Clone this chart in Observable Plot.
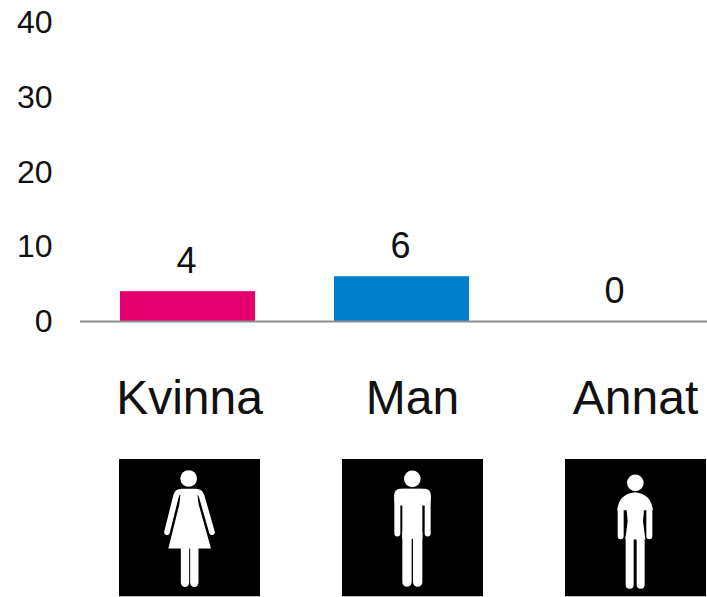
<!DOCTYPE html>
<html>
<head>
<meta charset="utf-8">
<script src="https://cdn.jsdelivr.net/npm/d3@7"></script>
<script src="https://cdn.jsdelivr.net/npm/@observablehq/plot@0.6"></script>
<style>
html,body{margin:0;padding:0;background:#fff;overflow:hidden}
svg{display:block}
</style>
</head>
<body>
<div id="chart"></div>
<script>
const categories = ["Kvinna", "Man", "Annat"];
const values = [4, 6, 0];
const colors = ["#e6006e", "#0080cc", "#0080cc"];
const yTicks = [0, 10, 20, 30, 40];
const font = "Arial, 'Liberation Sans', sans-serif";

const iconBodies = {
  Kvinna: {
    box: "57 27 423 414",
    art: `<circle cx="266" cy="87" r="25"/>
      <path d="M243 118H290L296 165L333 297H205L238 165Z"/>
      <path d="M240 127Q232 127 228 140L201 248M292 127Q300 127 305 140L336 248" fill="none" stroke="#fff" stroke-width="17" stroke-linecap="round"/>
      <path d="M255 285V400M283 285V400" stroke="#fff" stroke-width="25" stroke-linecap="round"/>`
  },
  Man: {
    box: "36 27 423 414",
    art: `<circle cx="247" cy="88" r="25"/>
      <rect x="193" y="118" width="109" height="50" rx="16"/>
      <rect x="217" y="118" width="60" height="150"/>
      <path d="M202 140V252M293 140V252" stroke="#fff" stroke-width="18" stroke-linecap="round"/>
      <path d="M231 250V398M263 250V398" stroke="#fff" stroke-width="28" stroke-linecap="round"/>`
  },
  Annat: {
    box: "705 27 423 414",
    art: `<circle cx="916" cy="100" r="25"/>
      <path d="M862 182Q865 134 915 128Q965 134 968 182Z"/>
      <path d="M872 175V260M958 175V260" stroke="#fff" stroke-width="18" stroke-linecap="round"/>
      <path d="M889 170H943L939 215L946 270H886L893 215Z"/>
      <path d="M899 262V406M932 262V406" stroke="#fff" stroke-width="24" stroke-linecap="round"/>`
  }
};
const iconSrc = (c) => {
  const i = iconBodies[c];
  const [x, y, w, h] = i.box.split(" ");
  const svg = `<svg xmlns="http://www.w3.org/2000/svg" viewBox="${i.box}" preserveAspectRatio="none"><rect x="${x}" y="${y}" width="${w}" height="${h}" fill="#000"/><g fill="#fff">${i.art}</g></svg>`;
  return "data:image/svg+xml;utf8," + encodeURIComponent(svg);
};

const rows = categories.map((c, i) => ({category: c, value: values[i], color: colors[i]}));

const bars = Plot.plot({
  width: 707,
  height: 340,
  marginLeft: 80,
  marginRight: 0,
  marginTop: 0,
  marginBottom: 0,
  style: {fontFamily: font, background: "#fff"},
  x: {domain: categories, range: [80.5, 722.5], paddingInner: 0.37, paddingOuter: 0.185, axis: null},
  y: {domain: [0, 40], range: [321, 22.5], axis: null},
  marks: [
    Plot.barY(rows, {x: "category", y: "value", fill: "color"}),
    Plot.ruleY([0], {stroke: "#8c8c8c", strokeWidth: 2}),
    Plot.axisY({ticks: yTicks, tickSize: 0, tickPadding: 28, label: null, fontSize: 32, color: "#111", anchor: "left"}),
    Plot.text(rows, {x: "category", y: "value", text: "value", dx: -1.5, dy: -30, fontSize: 36, fill: "#111"})
  ]
});

const legendRows = ["label", "icon"];
const pictos = Plot.plot({
  width: 707,
  height: 257,
  margin: 0,
  style: {fontFamily: font, background: "#fff"},
  x: {domain: categories, type: "point", range: [188.5, 634.5], padding: 0, axis: null},
  y: {domain: legendRows, type: "point", range: [58, 187.5], padding: 0, axis: null},
  marks: [
    Plot.text(categories, {x: (d) => d, y: () => "label", text: (d) => d, fontSize: 48, fill: "#111"}),
    Plot.image(categories, {x: (d) => d, y: () => "icon", src: iconSrc, width: 141, height: 138, preserveAspectRatio: "none"})
  ]
});

document.getElementById("chart").append(bars, pictos);
</script>
</body>
</html>
